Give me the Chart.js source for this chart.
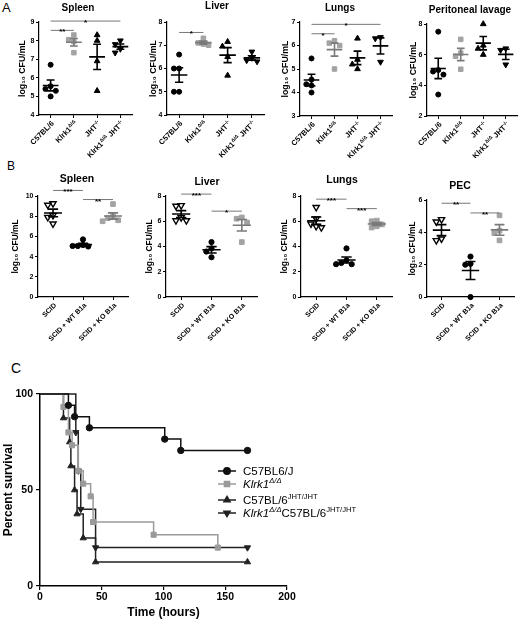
<!DOCTYPE html>
<html><head><meta charset="utf-8">
<script src="https://cdn.jsdelivr.net/npm/chart.js@4.4.1/dist/chart.umd.min.js"></script>
<style>
html,body{margin:0;padding:0;background:#fff;overflow:hidden;width:520px;height:619px;}
#fig{position:relative;width:520px;height:619px;overflow:hidden;background:#fff;}
canvas{position:absolute;}
.plabel{position:absolute;font-family:"Liberation Sans",Arial,sans-serif;line-height:1;color:#000;}
</style></head>
<body><div id="fig">
<div class="plabel" style="left:2px;top:1px;font-size:13px">A</div>
<div class="plabel" style="left:7px;top:160px;font-size:12px">B</div>
<div class="plabel" style="left:11px;top:361px;font-size:14px">C</div>
</div>
<script>
// ---------------- DATA ----------------
const groupLabelsA = ["C57BL/6", "Klrk1^{Δ/Δ}", "JHT^{-/-}", "Klrk1^{Δ/Δ} JHT^{-/-}"];
const groupLabelsB = ["SCID", "SCID + WT B1a", "SCID + KO B1a"];
const titlesA = ["Spleen", "Liver", "Lungs", "Peritoneal lavage"];
const titlesB = ["Spleen", "Liver", "Lungs", "PEC"];
const yTitle = "log₁₀ CFU/mL";

const spleenA = [[6.7, 5.55, 5.4, 5.3, 5.0], [8.3, 8.05, 7.95, 7.35], [8.3, 8.0, 6.9, 5.3], [8.0, 7.8, 7.55, 7.35]];
const liverA  = [[6.6, 6.0, 6.0, 5.0, 5.0], [7.3, 7.1, 7.05, 7.0], [7.15, 6.95, 6.5, 5.7], [6.72, 6.45, 6.35, 6.3]];
const lungsA  = [[5.45, 4.55, 4.35, 4.3, 4.0], [6.2, 6.1, 6.0, 5.0], [6.3, 5.4, 5.2, 5.0], [6.35, 6.3, 5.3]];
const periA   = [[7.5, 5.0, 4.9, 4.7, 3.4], [7.0, 6.1, 5.9, 5.05], [8.0, 6.6, 6.4, 6.0], [6.4, 6.3, 5.35]];

const spleenB = [[9.25, 9.1, 8.1, 7.9, 7.25], [5.7, 5.15, 5.05, 5.0, 5.05], [9.2, 8.0, 7.8, 7.6, 7.5]];
const liverB  = [[7.25, 7.2, 6.3, 6.05, 6.05], [4.35, 3.85, 3.6, 3.15], [6.3, 6.2, 5.9, 4.35]];
const lungsB  = [[7.1, 6.2, 5.8, 5.6, 5.5], [3.85, 2.9, 2.7, 2.6, 2.6], [6.05, 6.0, 5.75, 5.6, 5.5]];
const pecB    = [[4.8, 4.65, 3.6, 3.5], [2.5, 2.05, 2.0, 0.0], [5.05, 4.1, 3.95, 3.5]];

const yTicksA = [[4, 5, 6, 7, 8, 9], [4, 5, 6, 7, 8], [3, 4, 5, 6, 7], [2, 4, 6, 8]];
const yTicksB = [[0, 2, 4, 6, 8, 10], [0, 2, 4, 6, 8], [0, 2, 4, 6, 8], [0, 2, 4, 6]];

// significance: [fromGroup, toGroup, level (data units), label]
const sigSpleenA = [[0, 1, 8.55, "**"], [0, 3, 9.05, "*"]];
const sigLiverA  = [[0, 1, 7.55, "*"]];
const sigLungsA  = [[0, 1, 6.5, "*"], [0, 3, 6.9, "*"]];
const sigPeriA   = [];
const sigSpleenB = [[0, 1, 10.55, "***"], [1, 2, 9.65, "**"]];
const sigLiverB  = [[0, 1, 8.15, "***"], [1, 2, 6.8, "*"]];
const sigLungsB  = [[0, 1, 7.75, "***"], [1, 2, 7.0, "***"]];
const sigPecB    = [[0, 1, 5.8, "**"], [1, 2, 5.2, "**"]];

// survival (time in hours, percent survival)
const survLabels = ["C57BL6/J", "*Klrk1*^{*Δ/Δ*}", "C57BL/6^{JHT/JHT}", "*Klrk1*^{*Δ/Δ*}C57BL/6^{JHT/JHT}"];
const c57Time  = [0, 23, 28, 40, 101, 114, 168];
const c57Surv  = [100, 94.1, 88.2, 82.4, 76.5, 70.6, 70.6];
const klrkTime = [0, 19, 23, 26, 31, 35, 41, 43, 92, 144];
const klrkSurv = [100, 93.3, 80, 73.3, 60, 53.3, 46.7, 33.3, 26.7, 20];
const jhtTime  = [0, 19, 24, 25, 28, 30, 35, 45, 168];
const jhtSurv  = [100, 87.5, 75, 62.5, 50, 37.5, 25, 12.5, 12.5];
const dkoTime  = [0, 29, 31, 33, 45, 168];
const dkoSurv  = [100, 80, 60, 40, 20, 20];
const survXTicks = [0, 50, 100, 150, 200];
const survYTicks = [0, 50, 100];

// ---------------- HELPERS ----------------
const FONT = '"Liberation Sans", Arial, sans-serif';
const GRAY = '#a3a3a3';
const GRAYBAR = '#7a7a7a';
const fig = document.getElementById('fig');

function makeCanvas(x, y, w, h) {
  const c = document.createElement('canvas');
  c.width = w; c.height = h;
  c.style.left = x + 'px'; c.style.top = y + 'px';
  c.style.width = w + 'px'; c.style.height = h + 'px';
  fig.appendChild(c);
  return c;
}

function parseRich(s) {
  const segs = []; let italic = false, mode = 'n', buf = '';
  const flush = () => { if (buf) segs.push({ t: buf, it: italic, m: mode }); buf = ''; };
  for (let i = 0; i < s.length; i++) {
    const ch = s[i];
    if (ch === '*') { flush(); italic = !italic; continue; }
    if ((ch === '^' || ch === '_') && s[i + 1] === '{') { flush(); mode = ch === '^' ? 'sup' : 'sub'; i++; continue; }
    if (ch === '}' && mode !== 'n') { flush(); mode = 'n'; continue; }
    buf += ch;
  }
  flush();
  return segs;
}
function segFont(seg, size, weight) {
  const sz = seg.m === 'n' ? size : size * 0.66;
  return (seg.it ? 'italic ' : '') + weight + ' ' + sz + 'px ' + FONT;
}
function drawRich(ctx, text, x, y, size, weight, align) {
  const segs = parseRich(text);
  let w = 0;
  segs.forEach(s => { ctx.font = segFont(s, size, weight); w += ctx.measureText(s.t).width; });
  let cx = align === 'right' ? x - w : x;
  ctx.textAlign = 'left'; ctx.textBaseline = 'alphabetic';
  segs.forEach(s => {
    ctx.font = segFont(s, size, weight);
    const dy = s.m === 'sup' ? -size * 0.4 : (s.m === 'sub' ? size * 0.2 : 0);
    ctx.fillText(s.t, cx, y + dy);
    cx += ctx.measureText(s.t).width;
  });
}

function spreadOffsets(vals, thr, step) {
  const placed = [];
  const cands = [0, -step, step, -2 * step, 2 * step];
  return vals.map(v => {
    const near = placed.filter(p => Math.abs(p.v - v) < thr);
    let o = cands.find(c => !near.some(p => Math.abs(p.o - c) < step * 0.9));
    if (o === undefined) o = 0;
    placed.push({ v, o });
    return o;
  });
}

function dotPlugin(groups, labels, sig, barColors, fs, meanHalf, capHalf, title, tx, ty) {
  return {
    id: 'dotExtras',
    afterDatasetsDraw(chart) {
      const { ctx } = chart; const x = chart.scales.x, y = chart.scales.y;
      ctx.save();
      groups.forEach((vals, g) => {
        const n = vals.length;
        const m = vals.reduce((a, b) => a + b, 0) / n;
        const sd = Math.sqrt(vals.reduce((a, v) => a + (v - m) * (v - m), 0) / (n - 1));
        const se = sd / Math.sqrt(n);
        const xc = x.getPixelForValue(g);
        const xm0 = x.getPixelForValue(g - meanHalf), xm1 = x.getPixelForValue(g + meanHalf);
        const xc0 = x.getPixelForValue(g - capHalf), xc1 = x.getPixelForValue(g + capHalf);
        const ym = y.getPixelForValue(m), yt = y.getPixelForValue(m + se), yb = y.getPixelForValue(m - se);
        ctx.strokeStyle = barColors[g]; ctx.lineWidth = 1.6; ctx.lineCap = 'butt';
        ctx.beginPath();
        ctx.moveTo(xm0, ym); ctx.lineTo(xm1, ym);
        ctx.moveTo(xc, yt); ctx.lineTo(xc, yb);
        ctx.moveTo(xc0, yt); ctx.lineTo(xc1, yt);
        ctx.moveTo(xc0, yb); ctx.lineTo(xc1, yb);
        ctx.stroke();
      });
      sig.forEach(([a, b, v, txt]) => {
        const xa = x.getPixelForValue(a), xb = x.getPixelForValue(b), yy = y.getPixelForValue(v);
        ctx.strokeStyle = '#777'; ctx.lineWidth = 1;
        ctx.beginPath(); ctx.moveTo(xa, yy); ctx.lineTo(xb, yy); ctx.stroke();
        ctx.fillStyle = '#000'; ctx.font = 'bold 8px ' + FONT;
        ctx.textAlign = 'center'; ctx.textBaseline = 'alphabetic';
        ctx.fillText(txt, (xa + xb) / 2, yy + 4);
      });
      ctx.restore();
    },
    afterDraw(chart) {
      const { ctx } = chart; const x = chart.scales.x;
      const ay = chart.chartArea.bottom + 7;
      ctx.save();
      ctx.fillStyle = '#000';
      labels.forEach((lab, i) => {
        const ax = x.getPixelForValue(i) + 2;
        ctx.save();
        ctx.translate(ax, ay);
        ctx.rotate(-Math.PI / 4);
        drawRich(ctx, lab, 0, fs.xlab * 0.36, fs.xlab, 'bold', 'right');
        ctx.restore();
      });
      ctx.font = 'bold ' + fs.title + 'px ' + FONT;
      ctx.textAlign = 'center'; ctx.textBaseline = 'middle';
      ctx.fillText(title, tx, ty);
      ctx.restore();
    }
  };
}

function dotChart(L, cy0, ch, groups, labels, ticks, sig, title, styles, barColors, fs, meanHalf, capHalf) {
  const cx0 = L.left - 38;
  const cw = Math.round(L.right + 6 - cx0);
  const canvas = makeCanvas(cx0, cy0, cw, ch);
  const ymin = ticks[0], ymax = ticks[ticks.length - 1];
  const n = groups.length;
  const spacing = (L.right - L.left) / n;
  const pxPerUnit = (L.bottom - L.top) / (ymax - ymin);
  const thr = 5.2 / pxPerUnit, step = 5.2 / spacing;
  const ylh = fs.ytitle * 1.2;
  const datasets = groups.map((vals, g) => {
    const off = spreadOffsets(vals, thr, step);
    const st = styles[g];
    return {
      data: vals.map((v, k) => ({ x: g + off[k], y: v })),
      pointStyle: st.ps, pointRadius: st.r, pointRotation: st.rot || 0,
      pointBackgroundColor: st.bg, pointBorderColor: st.bc, pointBorderWidth: st.bw || 1,
      pointHoverRadius: st.r, clip: false
    };
  });
  const axisGrid = { drawOnChartArea: false, drawTicks: true, tickLength: 3, color: '#000', lineWidth: 1 };
  const axisBorder = { color: '#000', width: 1.2 };
  new Chart(canvas, {
    type: 'scatter',
    data: { datasets },
    options: {
      responsive: false, animation: false, events: [],
      layout: { padding: { left: 0, top: L.top - cy0, bottom: 0, right: cx0 + cw - L.right } },
      plugins: { legend: { display: false }, tooltip: { enabled: false }, title: { display: false } },
      scales: {
        x: {
          type: 'linear', min: -0.5, max: n - 0.5,
          afterBuildTicks: s => { s.ticks = groups.map((_, i) => ({ value: i })); },
          afterFit: s => { s.height = cy0 + ch - L.bottom; },
          ticks: { display: false }, grid: axisGrid, border: axisBorder
        },
        y: {
          type: 'linear', min: ymin, max: ymax,
          afterBuildTicks: s => { s.ticks = ticks.map(v => ({ value: v })); },
          afterFit: s => { s.width = L.left - cx0; },
          ticks: { color: '#000', font: { family: FONT, size: fs.tick, weight: 'bold' }, padding: 1.5 },
          grid: axisGrid, border: axisBorder,
          title: {
            display: true, text: yTitle, color: '#000',
            font: { family: FONT, size: fs.ytitle, weight: 'bold' },
            padding: { top: L.yTitleX - cx0 - ylh / 2, bottom: 0 }
          }
        }
      }
    },
    plugins: [dotPlugin(groups, labels, sig, barColors, fs, meanHalf, capHalf, title, L.titleX - cx0, L.titleY - cy0)]
  });
}

// ---------------- PANEL A ----------------
const layoutA = [
  { left: 39, right: 132, top: 22, bottom: 115, titleX: 78, titleY: 8.5, yTitleX: 23 },
  { left: 167, right: 264, top: 22, bottom: 115, titleX: 217, titleY: 6.5, yTitleX: 153.5 },
  { left: 300, right: 392, top: 22, bottom: 116, titleX: 340, titleY: 8, yTitleX: 286 },
  { left: 427, right: 517, top: 24, bottom: 116, titleX: 470, titleY: 10.5, yTitleX: 413.5 }
];
const stylesA = [
  { ps: 'circle', r: 2.5, bg: '#000', bc: '#000' },
  { ps: 'rect', r: 3.2, bg: GRAY, bc: GRAY },
  { ps: 'triangle', r: 3.3, bg: '#000', bc: '#000' },
  { ps: 'triangle', r: 3.3, rot: 180, bg: '#000', bc: '#000' }
];
const barsA = ['#000', GRAYBAR, '#000', '#000'];
const fsA = { title: 10, ytitle: 8.8, tick: 7, xlab: 7.5 };
const dataA = [spleenA, liverA, lungsA, periA];
const sigA = [sigSpleenA, sigLiverA, sigLungsA, sigPeriA];
layoutA.forEach((L, i) => dotChart(L, 0, 158, dataA[i], groupLabelsA, yTicksA[i], sigA[i], titlesA[i], stylesA, barsA, fsA, 0.34, 0.17));

// ---------------- PANEL B ----------------
const layoutB = [
  { left: 38, right: 128, top: 196, bottom: 297, titleX: 77, titleY: 179, yTitleX: 16 },
  { left: 166, right: 257, top: 196, bottom: 297, titleX: 207, titleY: 182, yTitleX: 150 },
  { left: 301, right: 392, top: 196, bottom: 297, titleX: 342, titleY: 180, yTitleX: 285 },
  { left: 427, right: 514, top: 200, bottom: 297, titleX: 460, titleY: 186, yTitleX: 413 }
];
const stylesB = [
  { ps: 'triangle', r: 3.6, rot: 180, bg: '#fff', bc: '#000', bw: 1.4 },
  { ps: 'circle', r: 2.6, bg: '#000', bc: '#000' },
  { ps: 'rect', r: 3.3, bg: GRAY, bc: GRAY }
];
const barsB = ['#000', '#000', GRAYBAR];
const fsB = { title: 10.5, ytitle: 8.4, tick: 7, xlab: 7 };
const dataB = [spleenB, liverB, lungsB, pecB];
const sigB = [sigSpleenB, sigLiverB, sigLungsB, sigPecB];
layoutB.forEach((L, i) => dotChart(L, 160, 195, dataB[i], groupLabelsB, yTicksB[i], sigB[i], titlesB[i], stylesB, barsB, fsB, 0.3, 0.17));

// ---------------- PANEL C ----------------
(function () {
  const cx0 = 0, cy0 = 355, cw = 400, ch = 264;
  const area = { left: 40, right: 287, top: 394, bottom: 586 };
  const canvas = makeCanvas(cx0, cy0, cw, ch);
  const series = [
    { t: c57Time, s: c57Surv, color: '#111', ps: 'circle', r: 3.2, rot: 0 },
    { t: klrkTime, s: klrkSurv, color: '#9a9a9a', ps: 'rect', r: 3.6, rot: 0 },
    { t: jhtTime, s: jhtSurv, color: '#222', ps: 'triangle', r: 3.6, rot: 0 },
    { t: dkoTime, s: dkoSurv, color: '#222', ps: 'triangle', r: 3.6, rot: 180 }
  ];
  const datasets = series.map(se => ({
    data: se.t.map((x, i) => ({ x, y: se.s[i] })),
    stepped: true, borderColor: se.color, borderWidth: 1.5, fill: false,
    pointStyle: se.ps, pointRotation: se.rot,
    pointRadius: se.t.map((_, i) => i === 0 ? 0 : se.r),
    pointHoverRadius: se.t.map((_, i) => i === 0 ? 0 : se.r),
    pointBackgroundColor: se.color, pointBorderColor: se.color, pointBorderWidth: 1,
    clip: false
  }));
  const grid = { drawOnChartArea: false, drawTicks: true, tickLength: 4, color: '#000', lineWidth: 1.2 };
  const border = { color: '#000', width: 1.5 };
  const tickFont = { family: FONT, size: 10.5, weight: 'bold' };
  const legendPlugin = {
    id: 'survLegend',
    afterDraw(chart) {
      const ctx = chart.ctx;
      const rows = [471, 484, 500, 513];
      ctx.save();
      series.forEach((se, i) => {
        const y = rows[i] - cy0;
        ctx.strokeStyle = se.color; ctx.lineWidth = 1.5;
        ctx.beginPath(); ctx.moveTo(218 - cx0, y); ctx.lineTo(236 - cx0, y); ctx.stroke();
        ctx.fillStyle = se.color;
        Chart.helpers.drawPoint(ctx, { pointStyle: se.ps, rotation: se.rot, radius: se.r, borderWidth: 1 }, 227 - cx0, y);
        ctx.fillStyle = '#000';
        drawRich(ctx, survLabels[i], 243 - cx0, y + 4, 11.5, 'normal', 'left');
      });
      ctx.restore();
    }
  };
  new Chart(canvas, {
    type: 'line',
    data: { datasets },
    options: {
      responsive: false, animation: false, events: [],
      layout: { padding: { left: 0, top: area.top - cy0, right: cx0 + cw - area.right, bottom: 0 } },
      plugins: { legend: { display: false }, tooltip: { enabled: false } },
      scales: {
        x: {
          type: 'linear', min: survXTicks[0], max: survXTicks[survXTicks.length - 1],
          afterBuildTicks: s => { s.ticks = survXTicks.map(v => ({ value: v })); },
          afterFit: s => { s.height = cy0 + ch - area.bottom; },
          ticks: { color: '#000', font: tickFont, padding: 1, maxRotation: 0 },
          grid, border,
          title: { display: true, text: 'Time (hours)', color: '#000', font: { family: FONT, size: 12, weight: 'bold', lineHeight: 1 }, padding: { top: 0, bottom: 0 } }
        },
        y: {
          type: 'linear', min: survYTicks[0], max: survYTicks[survYTicks.length - 1],
          afterBuildTicks: s => { s.ticks = survYTicks.map(v => ({ value: v })); },
          afterFit: s => { s.width = area.left - cx0; },
          ticks: { color: '#000', font: tickFont, padding: 3 },
          grid, border,
          title: { display: true, text: 'Percent survival', color: '#000', font: { family: FONT, size: 12, weight: 'bold', lineHeight: 1.2 }, padding: { top: 1, bottom: 0 } }
        }
      }
    },
    plugins: [legendPlugin]
  });
})();
</script>
</body></html>
